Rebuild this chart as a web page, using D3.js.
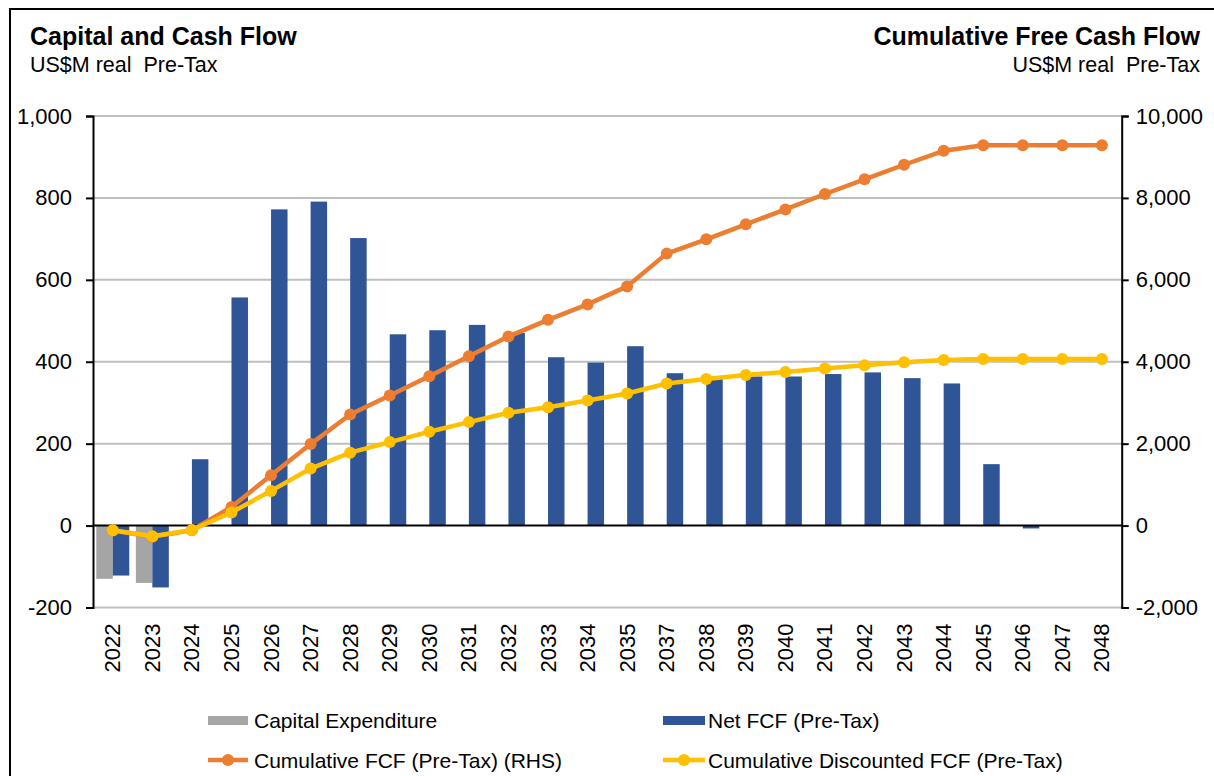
<!DOCTYPE html>
<html>
<head>
<meta charset="utf-8">
<script src="https://cdn.jsdelivr.net/npm/d3@7"></script>
<style>
  html, body { margin: 0; padding: 0; background: #fff; }
  svg { display: block; font-family: Arial, "Liberation Sans", sans-serif; }
</style>
</head>
<body>
<svg id="chart" width="1214" height="776"></svg>
<script>
// ---------- DATA ----------
const categories = ["2022","2023","2024","2025","2026","2027","2028","2029","2030","2031","2032","2033","2034","2035",
  "2037","2038","2039","2040","2041","2042","2043","2044","2045","2046","2047","2048"];
const capitalExpenditure = [-130,-140,0,0,0,0,0,0,0,0,0,0,0,0,0,0,0,0,0,0,0,0,0,0,0,0];
const netFCF = [-122,-151,162,557,772,791,702,467,477,490,470,411,398,438,372,358,364,364,370,374,360,347,150,-7,0,0];
const cumulativeFCF = [-122,-273,-115,455,1230,1990,2712,3175,3645,4135,4615,5024,5400,5840,
  6640,6990,7355,7720,8095,8455,8810,9150,9285,9285,9285,9285];
const cumulativeDiscountedFCF = [-112,-262,-108,321,847,1392,1781,2039,2292,2526,2754,2890,3054,3224,
  3470,3581,3675,3752,3835,3915,3985,4040,4070,4070,4070,4070];
const leftTicks = [-200,0,200,400,600,800,1000];
const rightTicks = [-2000,0,2000,4000,6000,8000,10000];
const seriesNames = ["Capital Expenditure","Net FCF (Pre-Tax)","Cumulative FCF (Pre-Tax) (RHS)","Cumulative Discounted FCF (Pre-Tax)"];

// ---------- STYLE ----------
const colors = { capex: "#A5A5A5", net: "#2F5597", cum: "#ED7D31", disc: "#FFC000" };
const plot = { left: 93, right: 1121.7, top: 116, bottom: 607.5 };

const svg = d3.select("#chart");
const fmt = v => d3.format(",")(v).replace("\u2212", "-");

// border
svg.append("rect").attr("x", 10).attr("y", 9).attr("width", 1400).attr("height", 1000)
  .attr("fill", "#fff").attr("stroke", "#000").attr("stroke-width", 2);

// scales
const x = d3.scaleBand().domain(categories).range([plot.left, plot.right]).paddingInner(0).paddingOuter(0);
const xs = d3.scaleBand().domain(["capex","net"]).range([0, x.bandwidth()]).paddingInner(0).paddingOuter(0.2);
const yL = d3.scaleLinear().domain([-200, 1000]).range([plot.bottom, plot.top]);
const yR = d3.scaleLinear().domain([-2000, 10000]).range([plot.bottom, plot.top]);

// gridlines
svg.append("g").selectAll("line").data(leftTicks.filter(d => d !== 0)).join("line")
  .attr("x1", plot.left).attr("x2", plot.right)
  .attr("y1", d => yL(d)).attr("y2", d => yL(d))
  .attr("stroke", "#BFBFBF").attr("stroke-width", 2);

// bars
const bars = svg.append("g");
bars.selectAll("rect.capex").data(categories).join("rect").attr("class","capex")
  .attr("x", d => x(d) + xs("capex")).attr("width", xs.bandwidth())
  .attr("y", (d,i) => yL(Math.max(0, capitalExpenditure[i])))
  .attr("height", (d,i) => Math.abs(yL(capitalExpenditure[i]) - yL(0)))
  .attr("fill", colors.capex);
bars.selectAll("rect.net").data(categories).join("rect").attr("class","net")
  .attr("x", d => x(d) + xs("net")).attr("width", xs.bandwidth())
  .attr("y", (d,i) => yL(Math.max(0, netFCF[i])))
  .attr("height", (d,i) => Math.abs(yL(netFCF[i]) - yL(0)))
  .attr("fill", colors.net);

// axes
const axisL = svg.append("g").attr("transform", `translate(${plot.left},0)`)
  .call(d3.axisLeft(yL).tickValues(leftTicks).tickSize(7).tickPadding(14).tickFormat(fmt));
const axisR = svg.append("g").attr("transform", `translate(${plot.right},0)`)
  .call(d3.axisRight(yR).tickValues(rightTicks).tickSize(7).tickPadding(7).tickFormat(fmt));
[axisL, axisR].forEach(g => {
  g.select(".domain").attr("stroke", "#000").attr("stroke-width", 2);
  g.selectAll(".tick line").attr("stroke", "#000").attr("stroke-width", 2);
  g.selectAll(".tick text").attr("font-size", 22).attr("fill", "#000").attr("font-family", "Arial, 'Liberation Sans', sans-serif");
});
// zero line
svg.append("line").attr("x1", plot.left).attr("x2", plot.right)
  .attr("y1", yL(0)).attr("y2", yL(0)).attr("stroke", "#000").attr("stroke-width", 2);

// x labels
svg.append("g").selectAll("text").data(categories).join("text")
  .attr("transform", d => `translate(${x(d) + x.bandwidth()/2},${plot.bottom + 16}) rotate(-90)`)
  .attr("text-anchor", "end").attr("dominant-baseline", "central")
  .attr("font-size", 22).attr("fill", "#000").text(d => d);

// lines
function drawLine(values, color) {
  const pts = categories.map((c, i) => [x(c) + x.bandwidth()/2, yR(values[i])]);
  svg.append("path").attr("d", d3.line()(pts)).attr("fill", "none")
    .attr("stroke", color).attr("stroke-width", 4.5).attr("stroke-linejoin", "round");
  svg.append("g").selectAll("circle").data(pts).join("circle")
    .attr("cx", p => p[0]).attr("cy", p => p[1]).attr("r", 6).attr("fill", color);
}
drawLine(cumulativeFCF, colors.cum);
drawLine(cumulativeDiscountedFCF, colors.disc);

// titles
const t = svg.append("g").attr("fill", "#000");
t.append("text").attr("x", 30).attr("y", 45).attr("font-size", 25).attr("font-weight", "bold").text("Capital and Cash Flow");
t.append("text").attr("x", 30).attr("y", 71.5).attr("font-size", 21.5).attr("xml:space","preserve").text("US$M real  Pre-Tax");
t.append("text").attr("x", 1200).attr("y", 45).attr("text-anchor", "end").attr("font-size", 25).attr("font-weight", "bold").text("Cumulative Free Cash Flow");
t.append("text").attr("x", 1200).attr("y", 71.5).attr("text-anchor", "end").attr("font-size", 21.5).attr("xml:space","preserve").text("US$M real  Pre-Tax");

// legend
const lg = svg.append("g").attr("font-size", 21).attr("fill", "#000");
const legendItems = [
  { name: seriesNames[0], type: "rect", color: colors.capex, x0: 208, x1: 248, y: 720.5, tx: 254 },
  { name: seriesNames[1], type: "rect", color: colors.net, x0: 663, x1: 705, y: 720.5, tx: 708 },
  { name: seriesNames[2], type: "line", color: colors.cum, x0: 208, x1: 248, y: 760, tx: 254 },
  { name: seriesNames[3], type: "line", color: colors.disc, x0: 663, x1: 705, y: 760, tx: 708 }
];
legendItems.forEach(it => {
  if (it.type === "rect") {
    lg.append("rect").attr("x", it.x0).attr("y", it.y - 4.5).attr("width", it.x1 - it.x0).attr("height", 9).attr("fill", it.color);
  } else {
    lg.append("line").attr("x1", it.x0).attr("x2", it.x1).attr("y1", it.y).attr("y2", it.y)
      .attr("stroke", it.color).attr("stroke-width", 4.5);
    lg.append("circle").attr("cx", (it.x0 + it.x1) / 2).attr("cy", it.y).attr("r", 6).attr("fill", it.color);
  }
  lg.append("text").attr("x", it.tx).attr("y", it.y + 7.5).text(it.name);
});
</script>
</body>
</html>
